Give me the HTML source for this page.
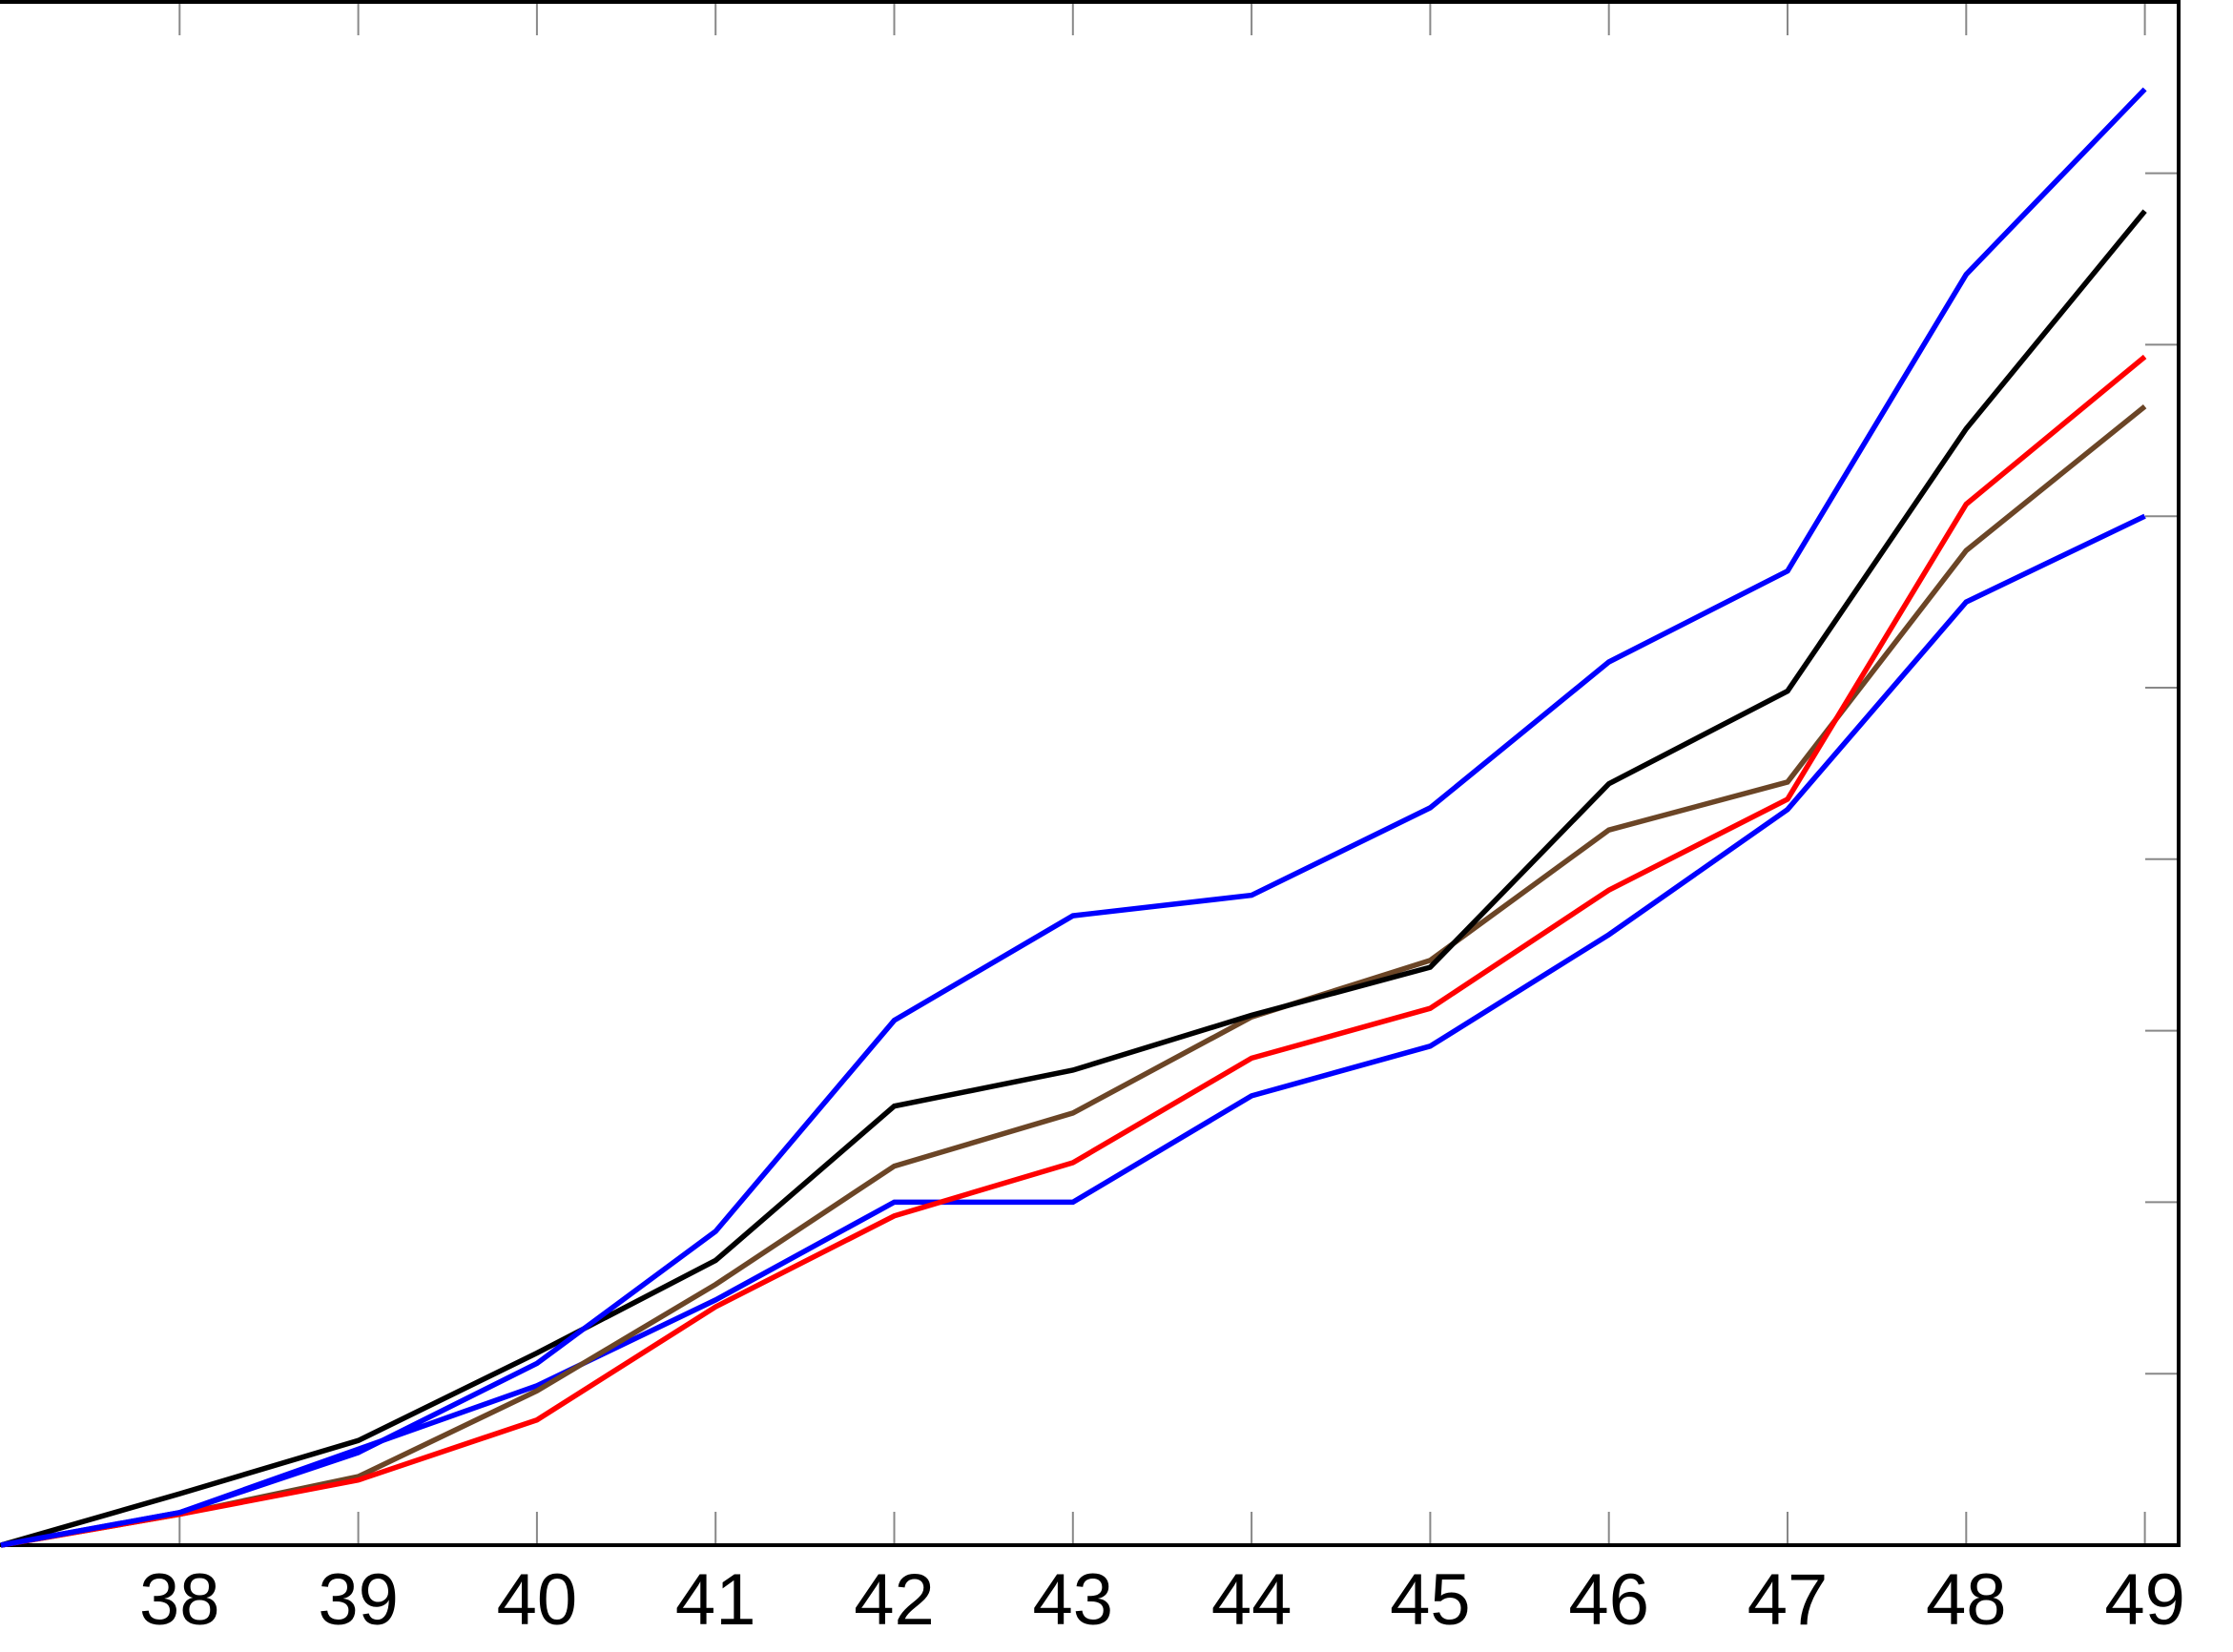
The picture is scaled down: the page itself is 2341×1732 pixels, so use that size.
<!DOCTYPE html>
<html><head><meta charset="utf-8"><style>
html,body{margin:0;padding:0;background:#fff;}
svg{display:block;}
</style></head><body>
<svg id="chart" width="2341" height="1732" xmlns="http://www.w3.org/2000/svg">
<g id="axes"></g>
<g id="series"></g>
</svg>
<script>
const categories = [37,38,39,40,41,42,43,44,45,46,47,48,49];
const xTickLabels = ["38","39","40","41","42","43","44","45","46","47","48","49"];
const yTicks = [1,2,3,4,5,6,7,8];
const seriesBlueUpper = [0,0.19,0.54,1.06,1.83,3.06,3.67,3.79,4.30,5.15,5.68,7.41,8.49];
const seriesBlack = [0,0.30,0.61,1.12,1.66,2.56,2.77,3.09,3.37,4.44,4.98,6.51,7.78];
const seriesRed = [0,0.18,0.38,0.73,1.39,1.92,2.23,2.84,3.13,3.82,4.35,6.07,6.93];
const seriesBrown = [0,0.18,0.40,0.90,1.52,2.21,2.52,3.08,3.41,4.17,4.45,5.80,6.64];
const seriesBlueLower = [0,0.19,0.56,0.93,1.43,2.00,2.00,2.62,2.91,3.56,4.29,5.50,6.00];

const NS = "http://www.w3.org/2000/svg";
const X0 = 1, XS = 187.3, Y0 = 1620, YS = 179.8;
const frameLeft = 0, frameRight = 2284, frameTop = 2, frameBottom = 1620;
function xPos(v){ return X0 + (v - 37) * XS; }
function yPos(v){ return Y0 - v * YS; }
function mk(tag, attrs, parent){
  const el = document.createElementNS(NS, tag);
  for (const k in attrs) el.setAttribute(k, attrs[k]);
  parent.appendChild(el);
  return el;
}
const axesG = document.getElementById('axes');
xTickLabels.forEach(function(lbl){
  const v = parseFloat(lbl), x = xPos(v);
  const t1 = mk('line', {x1:x, y1:frameBottom, x2:x, y2:frameBottom-35, stroke:'#888', 'stroke-width':2}, axesG);
  
  
  const t2 = mk('line', {x1:x, y1:frameTop, x2:x, y2:frameTop+35, stroke:'#888', 'stroke-width':2}, axesG);
  
  
  const tx = mk('text', {x:x, y:1703, 'text-anchor':'middle', 'font-family':'Liberation Sans, DejaVu Sans, sans-serif', 'font-size':76, fill:'#000'}, axesG);
  tx.textContent = lbl;
  
  
});
yTicks.forEach(function(v){
  const y = yPos(v);
  const t = mk('line', {x1:frameRight, y1:y, x2:frameRight-35, y2:y, stroke:'#888', 'stroke-width':2}, axesG);
  
  
});
const frame = mk('path', {d:'M'+frameLeft+' '+frameTop+' L'+frameRight+' '+frameTop+' L'+frameRight+' '+frameBottom+' L'+frameLeft+' '+frameBottom, fill:'none', stroke:'#000', 'stroke-width':4}, axesG);



const seriesG = document.getElementById('series');
const defs = [
  [seriesBlueLower, '#0000ff', 'series-blue-lower'],
  [seriesBrown, '#6b4526', 'series-brown'],
  [seriesRed, '#ff0000', 'series-red'],
  [seriesBlack, '#000000', 'series-black'],
  [seriesBlueUpper, '#0000ff', 'series-blue-upper']
];
defs.forEach(function(d){
  const pts = d[0].map(function(v,i){ return xPos(categories[i]).toFixed(1)+','+yPos(v).toFixed(1); }).join(' ');
  const pl = mk('polyline', {points:pts, fill:'none', stroke:d[1], 'stroke-width':5.5, 'stroke-linejoin':'miter'}, seriesG);
  
  
});
</script>
</body></html>
